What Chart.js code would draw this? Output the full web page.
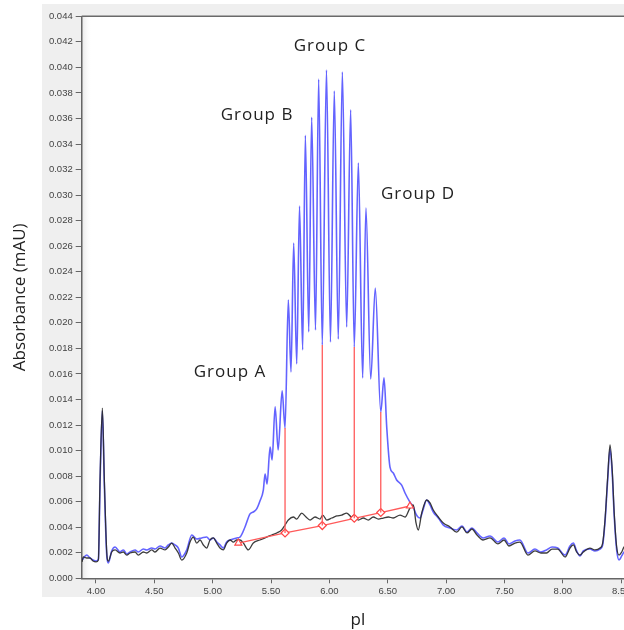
<!DOCTYPE html>
<html>
<head>
<meta charset="utf-8">
<script src="https://cdn.jsdelivr.net/npm/chart.js@4.4.0/dist/chart.umd.min.js"></script>
<style>
  html, body { margin: 0; padding: 0; background: #fff; overflow: hidden; }
  #wrap { position: absolute; left: 0; top: 0; width: 650px; height: 630px; }
</style>
</head>
<body>
<div id="wrap"><canvas id="myChart" width="650" height="630"></canvas></div>
<script>
// tick labels
var xTicks = [4.00, 4.50, 5.00, 5.50, 6.00, 6.50, 7.00, 7.50, 8.00, 8.50];
var yTicks = [0.000, 0.002, 0.004, 0.006, 0.008, 0.010, 0.012, 0.014, 0.016, 0.018, 0.020, 0.022,
              0.024, 0.026, 0.028, 0.030, 0.032, 0.034, 0.036, 0.038, 0.040, 0.042, 0.044];

// sample trace (blue) [pI, absorbance]
var sampleTrace = [
  [3.881,0.00143],[3.921,0.00182],[3.949,0.00159],[3.975,0.00143],[4.001,0.00135],[4.021,0.00151],
  [4.035,0.00731],[4.055,0.01310],[4.072,0.00731],[4.093,0.00175],[4.106,0.00120],[4.135,0.00214],
  [4.164,0.00245],[4.206,0.00206],[4.235,0.00222],[4.264,0.00190],[4.292,0.00206],[4.335,0.00222],
  [4.363,0.00206],[4.406,0.00229],[4.435,0.00222],[4.478,0.00237],[4.506,0.00229],[4.549,0.00253],
  [4.592,0.00237],[4.620,0.00261],[4.649,0.00276],[4.678,0.00261],[4.706,0.00237],[4.735,0.00167],
  [4.778,0.00222],[4.821,0.00339],[4.863,0.00308],[4.906,0.00316],[4.949,0.00323],[4.977,0.00300],
  [5.006,0.00316],[5.035,0.00284],[5.063,0.00261],[5.091,0.00237],[5.120,0.00284],[5.149,0.00300],
  [5.206,0.00316],[5.234,0.00323],[5.277,0.00402],[5.320,0.00504],[5.348,0.00519],[5.377,0.00543],
  [5.405,0.00605],[5.434,0.00691],[5.449,0.00817],[5.466,0.00738],[5.492,0.01028],[5.509,0.00926],
  [5.535,0.01343],[5.561,0.01005],[5.595,0.01467],[5.620,0.01177],[5.648,0.02179],[5.671,0.01616],
  [5.694,0.02625],[5.720,0.01679],[5.744,0.02914],[5.771,0.01788],[5.794,0.03469],[5.823,0.01929],
  [5.848,0.03610],[5.881,0.01944],[5.908,0.03908],[5.939,0.01827],[5.975,0.03979],[6.009,0.01850],
  [6.042,0.03815],[6.076,0.01874],[6.111,0.03964],[6.148,0.01968],[6.182,0.03667],[6.213,0.01811],
  [6.248,0.03252],[6.285,0.01569],[6.313,0.02899],[6.354,0.01561],[6.393,0.02273],[6.440,0.01302],
  [6.468,0.01569],[6.491,0.01185],[6.519,0.00871],[6.547,0.00824],[6.576,0.00770],[6.619,0.00730],
  [6.648,0.00668],[6.690,0.00597],[6.719,0.00558],[6.742,0.00503],[6.776,0.00472],[6.802,0.00535],
  [6.833,0.00613],[6.862,0.00574],[6.890,0.00519],[6.933,0.00472],[6.976,0.00417],[7.033,0.00394],
  [7.090,0.00378],[7.136,0.00409],[7.179,0.00362],[7.221,0.00394],[7.264,0.00355],[7.316,0.00316],
  [7.376,0.00331],[7.444,0.00284],[7.496,0.00316],[7.538,0.00269],[7.590,0.00292],[7.632,0.00300],
  [7.701,0.00198],[7.761,0.00229],[7.812,0.00206],[7.860,0.00222],[7.907,0.00245],[7.956,0.00237],
  [8.019,0.00182],[8.061,0.00253],[8.090,0.00276],[8.118,0.00214],[8.147,0.00175],[8.175,0.00214],
  [8.232,0.00229],[8.275,0.00214],[8.318,0.00229],[8.341,0.00261],[8.361,0.00441],[8.384,0.00770],
  [8.404,0.01013],[8.423,0.00817],[8.440,0.00488],[8.461,0.00222],[8.481,0.00143],[8.504,0.00175],
  [8.524,0.00206],[8.575,0.00222],[8.612,0.00230]
];

// blank trace (black) [pI, absorbance]
var blankTrace = [
  [3.881,0.00128],[3.892,0.00167],[3.921,0.00159],[3.949,0.00159],[3.975,0.00135],[4.001,0.00128],
  [4.021,0.00143],[4.035,0.00770],[4.055,0.01333],[4.072,0.00770],[4.093,0.00198],[4.106,0.00135],
  [4.135,0.00206],[4.164,0.00222],[4.206,0.00198],[4.235,0.00206],[4.264,0.00182],[4.292,0.00198],
  [4.335,0.00206],[4.363,0.00182],[4.406,0.00206],[4.435,0.00198],[4.478,0.00222],[4.506,0.00206],
  [4.549,0.00237],[4.592,0.00222],[4.620,0.00245],[4.649,0.00276],[4.678,0.00237],[4.706,0.00198],
  [4.735,0.00143],[4.778,0.00198],[4.806,0.00284],[4.834,0.00323],[4.863,0.00276],[4.892,0.00300],
  [4.920,0.00261],[4.949,0.00237],[4.977,0.00300],[5.006,0.00316],[5.035,0.00276],[5.063,0.00237],
  [5.091,0.00222],[5.120,0.00276],[5.149,0.00300],[5.177,0.00284],[5.206,0.00300],[5.234,0.00300],
  [5.263,0.00276],[5.305,0.00222],[5.348,0.00276],[5.405,0.00300],[5.463,0.00323],[5.506,0.00339],
  [5.549,0.00355],[5.591,0.00378],[5.620,0.00417],[5.648,0.00456],[5.691,0.00480],[5.720,0.00464],
  [5.763,0.00511],[5.800,0.00480],[5.834,0.00456],[5.877,0.00480],[5.920,0.00464],[5.943,0.00495],
  [5.977,0.00456],[6.020,0.00472],[6.063,0.00488],[6.105,0.00495],[6.148,0.00511],[6.191,0.00480],
  [6.211,0.00495],[6.248,0.00456],[6.290,0.00472],[6.333,0.00456],[6.376,0.00480],[6.419,0.00464],
  [6.462,0.00472],[6.505,0.00480],[6.547,0.00472],[6.605,0.00495],[6.648,0.00480],[6.690,0.00550],
  [6.719,0.00574],[6.742,0.00433],[6.761,0.00378],[6.791,0.00511],[6.833,0.00613],[6.862,0.00590],
  [6.890,0.00535],[6.933,0.00480],[6.976,0.00433],[7.033,0.00402],[7.090,0.00362],[7.136,0.00402],
  [7.179,0.00355],[7.221,0.00386],[7.264,0.00339],[7.316,0.00300],[7.376,0.00316],[7.444,0.00269],
  [7.496,0.00300],[7.538,0.00253],[7.590,0.00276],[7.632,0.00284],[7.701,0.00182],[7.761,0.00214],
  [7.812,0.00198],[7.860,0.00198],[7.907,0.00229],[7.956,0.00229],[8.019,0.00167],[8.061,0.00237],
  [8.090,0.00261],[8.118,0.00206],[8.147,0.00182],[8.175,0.00206],[8.232,0.00237],[8.275,0.00222],
  [8.318,0.00237],[8.341,0.00276],[8.361,0.00456],[8.384,0.00793],[8.404,0.01044],[8.423,0.00848],
  [8.440,0.00511],[8.461,0.00245],[8.481,0.00182],[8.504,0.00206],[8.524,0.00245],[8.575,0.00261],
  [8.612,0.00250]
];

// integration baseline: end points (triangles) + cut points (diamonds)
var basePI  = [5.220, 5.620, 5.939, 6.213, 6.440, 6.690];
var baseAbs = [0.00276, 0.00355, 0.00413, 0.00470, 0.00515, 0.00566];
var baseMarker = ['triangle', 'rectRot', 'rectRot', 'rectRot', 'rectRot', 'triangle'];

// vertical cut lines, from the baseline up to the trace
var cutPI   = [5.620, 5.939, 6.213, 6.440];
var cutBase = [0.00355, 0.00413, 0.00470, 0.00515];
var cutTop  = [0.01177, 0.01827, 0.01811, 0.01302];

// group labels
var groupNames = ['Group A', 'Group B', 'Group C', 'Group D'];
var groupPI    = [5.148, 5.380, 6.005, 6.759];
var groupAbs   = [0.01615, 0.03627, 0.04167, 0.03008];

function toPoints(arr) {
  return arr.map(function (p) { return { x: p[0], y: p[1] }; });
}

var cutPoints = [];
cutPI.forEach(function (p, i) {
  cutPoints.push({ x: p, y: cutBase[i] }, { x: p, y: cutTop[i] }, { x: p, y: null });
});

// grey frame round the plot + faint shadow next to the y axis
var framePlugin = {
  id: 'frame',
  beforeDraw: function (chart) {
    var c = chart.ctx, a = chart.chartArea;
    c.save();
    c.fillStyle = '#ffffff';
    c.fillRect(0, 0, chart.width, chart.height);
    c.fillStyle = '#efefef';
    c.fillRect(42, 4, chart.width - 42, 593);
    c.fillStyle = '#ffffff';
    c.fillRect(a.left, a.top, a.right - a.left, a.bottom - a.top);
    var g = c.createLinearGradient(a.left, 0, a.left + 10, 0);
    g.addColorStop(0, '#e6e6e6');
    g.addColorStop(1, 'rgba(255,255,255,0)');
    c.fillStyle = g;
    c.fillRect(a.left, a.top, 10, a.bottom - a.top);
    c.restore();
  },
  afterDraw: function (chart) {
    var c = chart.ctx, a = chart.chartArea;
    c.save();
    c.strokeStyle = '#6a6a6a';
    c.lineWidth = 1.5;
    c.beginPath();
    c.moveTo(a.left, a.top);
    c.lineTo(a.right, a.top);
    c.stroke();
    c.restore();
  }
};

// group labels, placed at data coordinates
var groupPlugin = {
  id: 'groups',
  afterDatasetsDraw: function (chart) {
    var c = chart.ctx, xs = chart.scales.x, ys = chart.scales.y;
    c.save();
    c.font = '17px "Open Sans"';
    c.letterSpacing = '1px';
    c.fillStyle = '#222';
    c.textAlign = 'center';
    c.textBaseline = 'middle';
    groupNames.forEach(function (n, i) {
      c.fillText(n, xs.getPixelForValue(groupPI[i]), ys.getPixelForValue(groupAbs[i]));
    });
    c.restore();
  }
};

var ctx = document.getElementById('myChart');
var myChart = new Chart(ctx, {
  type: 'line',
  data: {
    datasets: [
      {
        label: 'cuts',
        data: cutPoints,
        borderColor: 'rgba(255, 90, 90, 1)',
        borderWidth: 1.3,
        pointRadius: 0,
        tension: 0,
        spanGaps: false,
        order: 0
      },
      {
        label: 'baseline',
        data: basePI.map(function (p, i) { return { x: p, y: baseAbs[i] }; }),
        borderColor: 'rgba(255, 90, 90, 1)',
        borderWidth: 1.3,
        pointStyle: baseMarker,
        pointRadius: 4,
        pointBorderWidth: 1.2,
        pointBorderColor: 'rgba(255, 70, 70, 1)',
        pointBackgroundColor: '#ffffff',
        tension: 0,
        order: 1
      },
      {
        label: 'blank',
        data: toPoints(blankTrace),
        borderColor: 'rgba(40, 40, 40, 0.9)',
        borderWidth: 1.3,
        pointRadius: 0,
        cubicInterpolationMode: 'monotone',
        order: 2
      },
      {
        label: 'sample',
        data: toPoints(sampleTrace),
        borderColor: 'rgba(60, 60, 255, 0.8)',
        borderWidth: 1.6,
        pointRadius: 0,
        cubicInterpolationMode: 'monotone',
        order: 3
      }
    ]
  },
  options: {
    responsive: false,
    animation: false,
    devicePixelRatio: 1,
    layout: { padding: { top: 16.3, right: 15.7, bottom: 0, left: 0 } },
    plugins: {
      legend: { display: false },
      tooltip: { enabled: false }
    },
    scales: {
      x: {
        type: 'linear',
        min: 3.878,
        max: 8.612,
        afterBuildTicks: function (s) { s.ticks = xTicks.map(function (v) { return { value: v }; }); },
        afterFit: function (s) { s.height = 51.7; },
        ticks: {
          autoSkip: false,
          maxRotation: 0,
          padding: 2,
          color: '#444',
          font: { family: '"Liberation Sans", Arial', size: 9.5 },
          callback: function (v) { return Number(v).toFixed(2); }
        },
        grid: { drawOnChartArea: false, drawTicks: true, tickLength: 5, color: '#666' },
        border: { color: '#666', width: 1.5 },
        title: {
          display: true,
          text: 'pI',
          color: '#222',
          font: { family: '"Open Sans"', size: 17, lineHeight: 1.2 },
          padding: { top: 0, bottom: 0 }
        }
      },
      y: {
        min: 0,
        max: 0.044,
        afterBuildTicks: function (s) { s.ticks = yTicks.map(function (v) { return { value: v }; }); },
        afterFit: function (s) { s.width = 81.7; },
        ticks: {
          autoSkip: false,
          padding: 3,
          color: '#444',
          font: { family: '"Liberation Sans", Arial', size: 9.5 },
          callback: function (v) { return Number(v).toFixed(3); }
        },
        grid: { drawOnChartArea: false, drawTicks: true, tickLength: 6, color: '#666' },
        border: { color: '#666', width: 1.5 },
        title: {
          display: true,
          text: 'Absorbance (mAU)',
          color: '#222',
          font: { family: '"Open Sans"', size: 17, lineHeight: 1.2 },
          padding: { top: 10, bottom: 0 }
        }
      }
    }
  },
  plugins: [framePlugin, groupPlugin]
});
</script>
</body>
</html>
